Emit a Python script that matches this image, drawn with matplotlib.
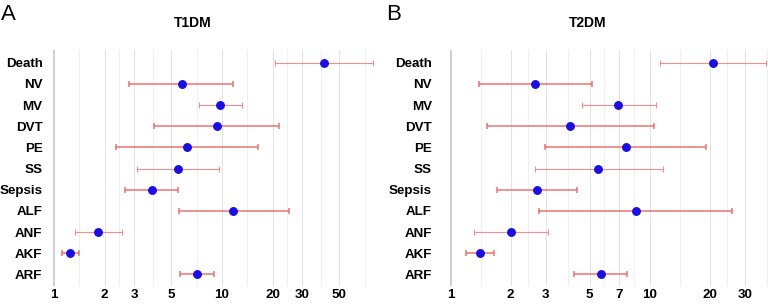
import matplotlib
matplotlib.use('Agg')
import matplotlib.pyplot as plt
import numpy as np

plt.rcParams['font.family'] = ['Liberation Sans', 'DejaVu Sans']

# outcomes, top to bottom
outcomes = ['Death', 'NV', 'MV', 'DVT', 'PE', 'SS', 'Sepsis', 'ALF', 'ANF', 'AKF', 'ARF']

# T1DM odds ratios with 95% CI
t1_or = [40.5, 5.75, 9.7, 9.3, 6.2, 5.45, 3.85, 11.7, 1.84, 1.25, 7.1]
t1_lo = [20.7, 2.81, 7.25, 3.95, 2.34, 3.13, 2.66, 5.57, 1.33, 1.11, 5.65]
t1_hi = [79.5, 11.7, 13.2, 21.9, 16.3, 9.55, 5.5, 25.2, 2.55, 1.41, 9.0]

# T2DM odds ratios with 95% CI
t2_or = [20.9, 2.65, 6.95, 3.98, 7.6, 5.52, 2.71, 8.5, 2.01, 1.40, 5.67]
t2_lo = [11.3, 1.38, 4.59, 1.53, 2.99, 2.64, 1.70, 2.79, 1.31, 1.20, 4.18]
t2_hi = [38.6, 5.11, 10.7, 10.5, 19.1, 11.6, 4.33, 26.0, 3.09, 1.65, 7.69]

t1_breaks = [1, 2, 3, 5, 10, 20, 30, 50]
t2_breaks = [1, 2, 3, 5, 7, 10, 20, 30]

# rows drawn with a paler error bar
pale = {'Death', 'MV', 'SS', 'ANF'}

W, H = 768, 304
fig = plt.figure(figsize=(W / 100, H / 100), dpi=100)


def panel(rect, orv, lo, hi, breaks, extra, xlim, title, letter, cx, lx, ypad):
    ax = fig.add_axes([rect[0] / W, 1 - rect[3] / H, (rect[2] - rect[0]) / W,
                       (rect[3] - rect[1]) / H])
    ax.set_xscale('log')
    n = len(outcomes)
    ys = np.arange(n)[::-1]
    # grid: majors + geometric midpoints
    allb = breaks + [extra]
    minors = [np.sqrt(a * b) for a, b in zip(allb[:-1], allb[1:])]
    for v in breaks[1:]:
        ax.axvline(v, color='#e4e4e4', lw=0.8, zorder=0)
    for v in minors:
        ax.axvline(v, color='#eeeeee', lw=0.6, zorder=0)
    ax.axvline(1, color='#cfcfcf', lw=1.4, zorder=1)
    for i, name in enumerate(outcomes):
        if name in pale:
            col, lw = '#f27a7a', 0.8
        else:
            col, lw = '#e85c5c', 1.1
        ax.errorbar(orv[i], ys[i], xerr=[[orv[i] - lo[i]], [hi[i] - orv[i]]],
                    fmt='none', ecolor=col, elinewidth=lw, capsize=2,
                    capthick=lw, alpha=0.85, zorder=2)
    ax.plot(orv, ys, 'o', color='#1a0fe0', ms=5.4, zorder=3)
    ax.set_xlim(*xlim)
    ax.set_ylim(-0.55, n - 1 + 0.6)
    ax.set_yticks(ys)
    ax.set_yticklabels(outcomes, fontsize=9.6, fontweight='bold')
    ax.set_xticks(breaks)
    ax.set_xticklabels([str(b) for b in breaks], fontsize=9.6, fontweight='bold')
    ax.minorticks_off()
    ax.tick_params(axis='both', length=0)
    ax.tick_params(axis='x', pad=2.5)
    ax.tick_params(axis='y', pad=ypad)
    for s in ax.spines.values():
        s.set_visible(False)
    fig.text(cx / W, 1 - 23 / H, title, ha='center', va='center',
             fontsize=10, fontweight='bold')
    fig.text(lx / W, 1 - 14 / H, letter, ha='left', va='center', fontsize=16)
    return ax


# left panel: px = 54 + 168*log10(v)
panel((46, 50, 382, 286), t1_or, t1_lo, t1_hi, t1_breaks, 100,
      (10 ** (-8 / 168), 10 ** (328 / 168)), 'T1DM', 'A', 193, 1, 2.5)
# right panel: px = 450.7 + 199*log10(v)
panel((440, 50, 768, 286), t2_or, t2_lo, t2_hi, t2_breaks, 50,
      (10 ** (-10.7 / 199), 10 ** (317.3 / 199)), 'T2DM', 'B', 588, 386, 6)

fig.savefig('out.png', dpi=100)
